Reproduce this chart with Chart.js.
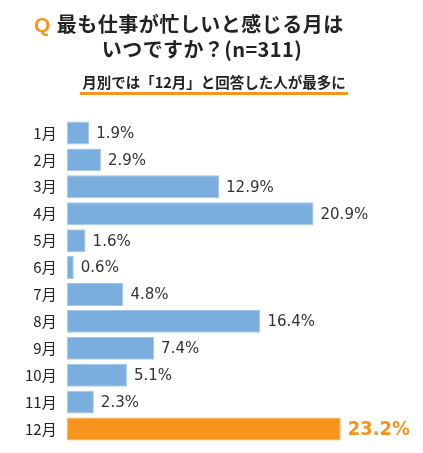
<!DOCTYPE html>
<html><head><meta charset="utf-8">
<script src="https://cdn.jsdelivr.net/npm/chart.js@4"></script>
<style>
html,body{margin:0;padding:0;background:#fff;}
#wrap{position:relative;width:423px;height:453px;overflow:hidden;}
#c{position:absolute;left:0;top:0;}
.t{position:absolute;white-space:nowrap;font-family:"Noto Sans CJK JP",sans-serif;font-weight:bold;color:#222;}
</style></head>
<body>
<div id="wrap">
<canvas id="c" width="423" height="453"></canvas>
<div class="t" style="left:34px;top:9px;font-size:20px;line-height:30px;letter-spacing:0.5px;"><span style="color:#f7941d;font-family:'Liberation Sans',Arial,sans-serif;font-size:21px;margin-right:6px;">Q</span>最も仕事が忙しいと感じる月は</div>
<div class="t" style="left:0;width:404px;text-align:center;top:34px;font-size:20px;line-height:30px;letter-spacing:0.4px;">いつですか？(n=311)</div>
<div class="t" style="left:80px;width:268px;text-align:center;top:72px;font-size:14.5px;line-height:20px;">月別では「12月」と回答した人が最多に</div>
<div style="position:absolute;left:80px;top:92px;width:268px;height:3px;background:#f7941d;"></div>
</div>
<script>
const months = ["1月","2月","3月","4月","5月","6月","7月","8月","9月","10月","11月","12月"];
const values = [1.9,2.9,12.9,20.9,1.6,0.6,4.8,16.4,7.4,5.1,2.3,23.2];
const highlightIndex = 11;

const blue = "#7aaedf", orange = "#f7941d";
const barColors = values.map((v,i)=> i===highlightIndex ? orange : blue);
const borderColors = values.map((v,i)=> i===highlightIndex ? "#f9a94a" : "#a3c7ea");

const valueLabels = {
  id:"valueLabels",
  afterDatasetsDraw(chart){
    const ctx = chart.ctx;
    const meta = chart.getDatasetMeta(0);
    ctx.save();
    ctx.textBaseline = "middle";
    ctx.textAlign = "left";
    meta.data.forEach((bar,i)=>{
      const txt = values[i].toFixed(1) + "%";
      if(i===highlightIndex){
        ctx.font = "bold 20px 'DejaVu Sans Condensed', 'DejaVu Sans', sans-serif";
        ctx.fillStyle = orange;
      } else {
        ctx.font = "15px 'DejaVu Sans', Verdana, sans-serif";
        ctx.fillStyle = "#333";
      }
      ctx.fillText(txt, bar.x + 7, bar.y + 1);
    });
    ctx.restore();
  }
};

new Chart(document.getElementById("c"), {
  type:"bar",
  data:{
    labels: months,
    datasets:[{
      data: values,
      backgroundColor: barColors,
      borderColor: borderColors,
      borderWidth: 1,
      borderSkipped: false,
      categoryPercentage: 1,
      barPercentage: 0.85
    }]
  },
  options:{
    indexAxis:"y",
    responsive:false,
    animation:false,
    devicePixelRatio:1,
    layout:{padding:{top:119.5,bottom:10.5,left:0,right:2}},
    plugins:{legend:{display:false},tooltip:{enabled:false},title:{display:false}},
    scales:{
      x:{min:0,max:30,display:false,grid:{display:false}},
      y:{
        grid:{display:false,drawTicks:false},
        border:{display:false},
        afterFit(s){ s.width = 66.7; s.paddingTop = 0; s.paddingBottom = 0; },
        ticks:{padding:10,color:"#222",font:{family:"'Noto Sans CJK JP', sans-serif",size:15}}
      }
    }
  },
  plugins:[valueLabels]
});
</script>
</body></html>
